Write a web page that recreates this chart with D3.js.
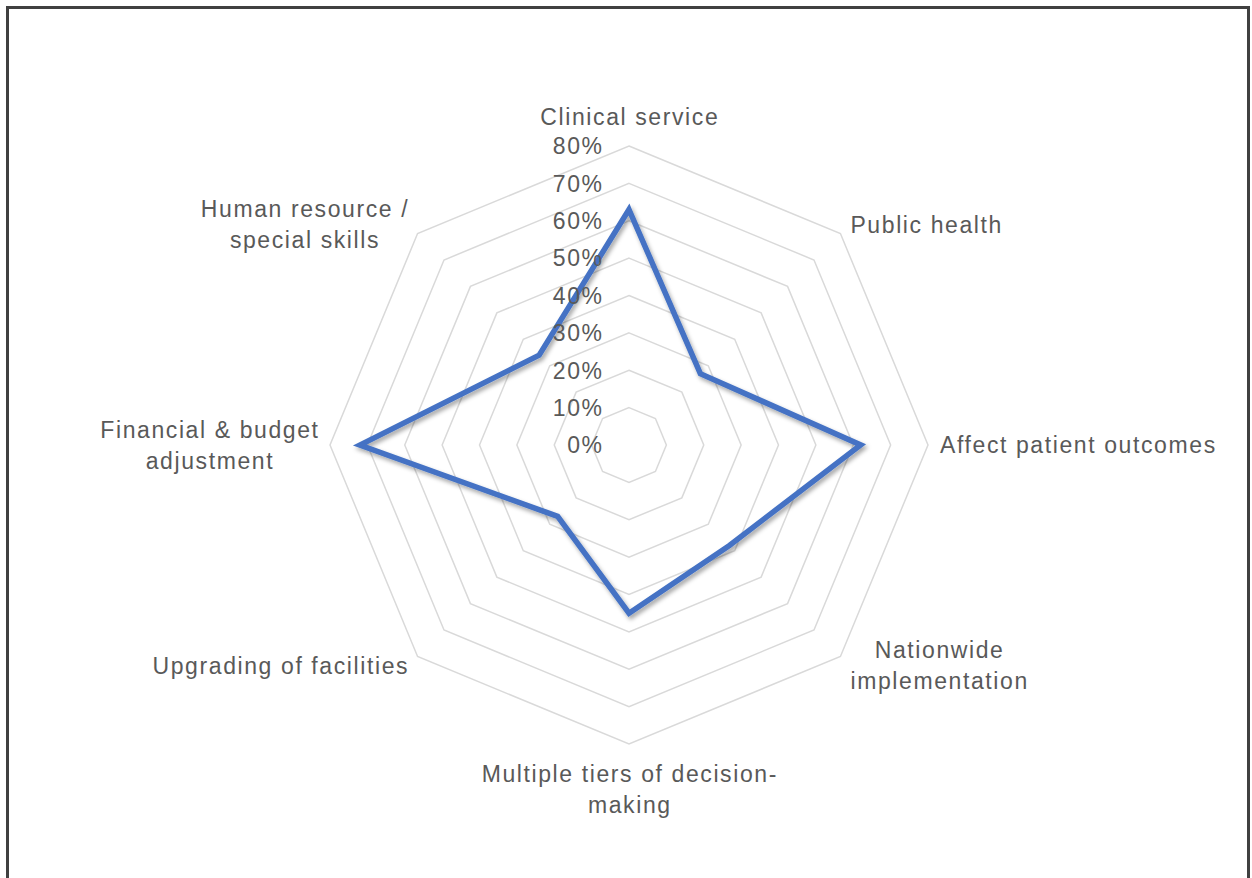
<!DOCTYPE html>
<html>
<head>
<meta charset="utf-8">
<script src="https://cdn.jsdelivr.net/npm/d3@7"></script>
<style>
  html, body { margin: 0; padding: 0; background: #ffffff; }
  svg { display: block; }
  text { font-family: "Liberation Sans", Arial, sans-serif; fill: #595959; letter-spacing: 1.6px; }
</style>
</head>
<body>
<svg id="chart" width="1252" height="878"></svg>
<script>
// Radar chart: share of responses per dimension
const categories = [
  ["Clinical service"],
  ["Public health"],
  ["Affect patient outcomes"],
  ["Nationwide", "implementation"],
  ["Multiple tiers of decision-", "making"],
  ["Upgrading of facilities"],
  ["Financial & budget", "adjustment"],
  ["Human resource /", "special skills"]
];
const values = [0.63, 0.27, 0.62, 0.38, 0.45, 0.27, 0.72, 0.34];
const ticks = [0, 0.1, 0.2, 0.3, 0.4, 0.5, 0.6, 0.7, 0.8];
const tickLabels = ["0%", "10%", "20%", "30%", "40%", "50%", "60%", "70%", "80%"];

const W = 1252, H = 878;
const cx = 629, cy = 445, R = 299;
const fontSize = 23, lineH = 31, spacing = 1.6;

const svg = d3.select("#chart");

// frame
svg.append("rect")
  .attr("x", 7.5).attr("y", 7.5)
  .attr("width", 1241).attr("height", H + 10)
  .attr("fill", "#ffffff")
  .attr("stroke", "#404040").attr("stroke-width", 3);

const defs = svg.append("defs");
const f = defs.append("filter").attr("id", "shadow")
  .attr("x", "-10%").attr("y", "-10%").attr("width", "120%").attr("height", "120%");
f.append("feDropShadow")
  .attr("dx", 2).attr("dy", 3).attr("stdDeviation", 2.2)
  .attr("flood-color", "#000").attr("flood-opacity", 0.35);

const n = categories.length;
const angle = d3.scaleLinear().domain([0, n]).range([0, 2 * Math.PI]);
const r = d3.scaleLinear().domain([0, 0.8]).range([0, R]);

const g = svg.append("g").attr("transform", `translate(${cx},${cy})`);

// polar helper: angle measured clockwise from the top
const pt = (i, v) => [Math.sin(angle(i)) * r(v), -Math.cos(angle(i)) * r(v)];

// grid rings
const ringLine = d3.line().curve(d3.curveLinearClosed);
g.append("g").selectAll("path")
  .data(ticks.filter(t => t > 0))
  .join("path")
  .attr("d", t => ringLine(d3.range(n).map(i => pt(i, t))))
  .attr("fill", "none")
  .attr("stroke", "#d9d9d9")
  .attr("stroke-width", 1.5);

// series line
g.append("path")
  .datum(values)
  .attr("d", d => ringLine(d.map((v, i) => pt(i, v))))
  .attr("fill", "none")
  .attr("stroke", "#4472C4")
  .attr("stroke-width", 5.5)
  .attr("stroke-linejoin", "miter")
  .attr("stroke-miterlimit", 4)
  .attr("filter", "url(#shadow)");

// value axis labels (trailing letter-spacing compensated)
g.append("g").selectAll("text")
  .data(ticks)
  .join("text")
  .attr("x", -27 + spacing)
  .attr("y", t => -r(t))
  .attr("dy", "0.36em")
  .attr("text-anchor", "end")
  .style("font-size", fontSize + "px")
  .text((t, i) => tickLabels[i]);

// category labels
const catG = g.append("g");
categories.forEach((lines, i) => {
  const [vx, vy] = pt(i, 0.8);
  const s = Math.sin(angle(i)), c = Math.cos(angle(i));
  const side = Math.abs(s) < 1e-6 ? 0 : Math.sign(s);
  const t = catG.append("text")
    .style("font-size", fontSize + "px")
    .attr("text-anchor", "middle");
  lines.forEach((ln, k) => {
    t.append("tspan").text(ln);
  });
  // block width from the widest line
  let bw = 0;
  t.selectAll("tspan").each(function () {
    bw = Math.max(bw, this.getComputedTextLength() - spacing);
  });
  const bh = lines.length * lineH;
  let centerX, centerY;
  if (side === 0) {
    centerX = vx;
    centerY = c > 0 ? vy - 14 - bh / 2 : vy + 14 + bh / 2;
  } else {
    const pad = Math.abs(c) < 1e-6 ? 12 : 10;
    centerX = side > 0 ? vx + pad + bw / 2 : vx - pad - bw / 2;
    centerY = vy - c * 13;
  }
  t.selectAll("tspan")
    .attr("x", centerX + spacing / 2)
    .attr("y", (d, k) => centerY - bh / 2 + lineH / 2 + k * lineH)
    .attr("dy", "0.36em");
});
</script>
</body>
</html>
